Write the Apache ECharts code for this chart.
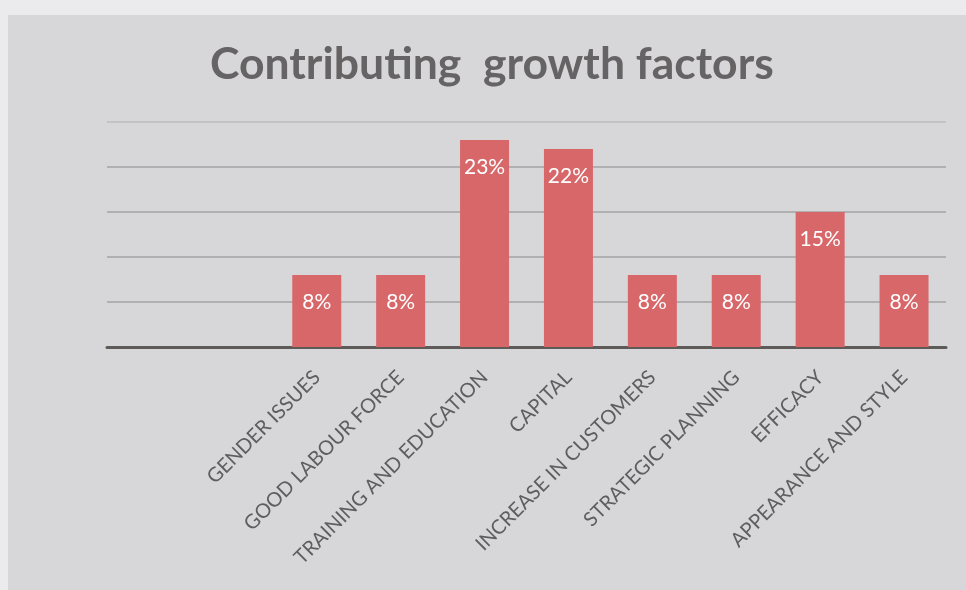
<!DOCTYPE html>
<html>
<head>
<meta charset="utf-8">
<title>Contributing growth factors</title>
<script src="https://cdn.jsdelivr.net/npm/echarts@6/dist/echarts.min.js"></script>
<style>
  html, body { margin: 0; padding: 0; background: #ebebed; }
  #chart { width: 966px; height: 590px; }
</style>
</head>
<body>
<div id="chart"></div>
<script>
// Two leading slots are left empty on the category axis.
const categories = [
  '', '',
  'GENDER ISSUES',
  'GOOD LABOUR FORCE',
  'TRAINING AND EDUCATION',
  'CAPITAL',
  'INCREASE IN CUSTOMERS',
  'STRATEGIC PLANNING',
  'EFFICACY',
  'APPEARANCE AND STYLE'
];
// Share of respondents, in percent
const shares = [null, null, 8, 8, 23, 22, 8, 8, 15, 8];

const yMin = 0;
const yMax = 25;
const yStep = 5;

const chart = echarts.init(document.getElementById('chart'));

chart.setOption({
  backgroundColor: '#ebebed',
  animation: false,
  graphic: [{
    type: 'rect',
    left: 8,
    top: 15,
    shape: { width: 960, height: 580 },
    style: { fill: '#d7d7d9' },
    z: -10
  }],
  title: {
    text: 'Contributing  growth factors',
    left: 205,
    top: 37,
    textStyle: {
      fontFamily: 'Lato',
      fontWeight: 'bold',
      fontSize: 44.5,
      color: '#656363'
    }
  },
  grid: {
    left: 107,
    right: 20,
    top: 122,
    bottom: 243,
    containLabel: false
  },
  xAxis: {
    type: 'category',
    data: categories,
    axisLine: { show: true, lineStyle: { color: '#5e5a58', width: 3 } },
    axisTick: { show: false },
    axisLabel: {
      rotate: 45,
      margin: 27,
      interval: 0,
      fontFamily: 'Lato',
      fontSize: 20,
      color: '#5e5e5e'
    }
  },
  yAxis: {
    type: 'value',
    min: yMin,
    max: yMax,
    interval: yStep,
    axisLine: { show: false },
    axisTick: { show: false },
    axisLabel: { show: false },
    splitLine: {
      show: true,
      lineStyle: {
        color: ['#a3a3a3', '#a3a3a3', '#a3a3a3', '#a3a3a3', '#a3a3a3', '#bdbdbf'],
        width: 1.5
      }
    }
  },
  series: [{
    type: 'bar',
    data: shares,
    barWidth: 49,
    itemStyle: { color: '#d8676a' },
    label: {
      show: true,
      position: 'insideTop',
      distance: 17,
      formatter: p => p.value + '%',
      fontFamily: 'Lato',
      fontSize: 21,
      color: '#ffffff'
    }
  }]
});
</script>
</body>
</html>
